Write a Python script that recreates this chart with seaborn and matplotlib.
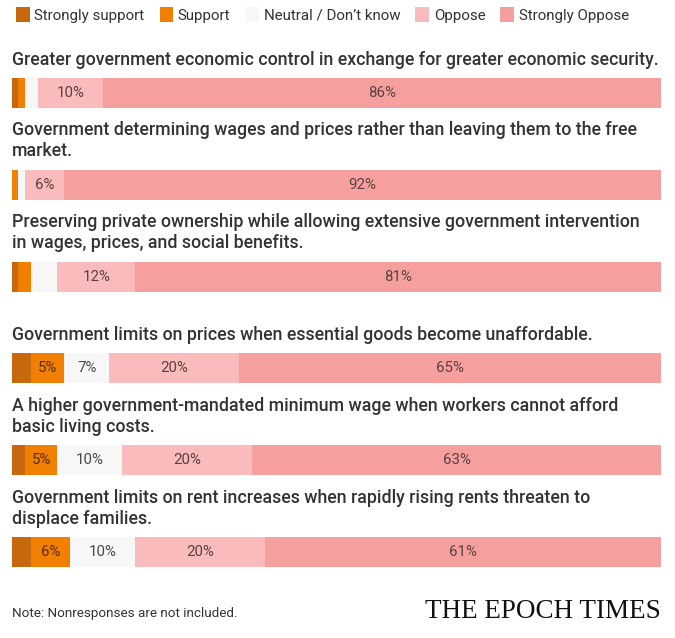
import pandas as pd
import seaborn as sns
import matplotlib.pyplot as plt
import numpy as np
from matplotlib.patches import Patch

sns.set_style("white")
plt.rcParams["font.family"] = ["Roboto", "DejaVu Sans"]

questions = [
    "Greater government economic control in exchange for greater economic security.",
    "Government determining wages and prices rather than leaving them to the free\nmarket.",
    "Preserving private ownership while allowing extensive government intervention\nin wages, prices, and social benefits.",
    "Government limits on prices when essential goods become unaffordable.",
    "A higher government-mandated minimum wage when workers cannot afford\nbasic living costs.",
    "Government limits on rent increases when rapidly rising rents threaten to\ndisplace families.",
]
categories = ["Strongly support", "Support", "Neutral / Don\u2019t know", "Oppose", "Strongly Oppose"]

strongly_support = [1, 0, 1, 3, 2, 3]
support = [1, 1, 2, 5, 5, 6]
neutral = [2, 1, 4, 7, 10, 10]
oppose = [10, 6, 12, 20, 20, 20]
strongly_oppose = [86, 92, 81, 65, 63, 61]

colors = ["#c8680e", "#f07f02", "#f7f7f7", "#f9bbbb", "#f59f9f"]
label_colors = ["#5a2e00", "#5a2e00", "#4a4a4a", "#5a4040", "#5a4040"]

df = pd.DataFrame({
    "question": questions,
    categories[0]: strongly_support,
    categories[1]: support,
    categories[2]: neutral,
    categories[3]: oppose,
    categories[4]: strongly_oppose,
})
cum = df[categories].cumsum(axis=1)

fig = plt.figure(figsize=(6.75, 6.38), dpi=100)
ax = fig.add_axes([12 / 675, 1 - 598 / 638, 649 / 675, 551 / 638])

# stacked bars: draw cumulative totals from the widest down
bar_h = 0.327
for cat, col in reversed(list(zip(categories, colors))):
    sns.barplot(x=cum[cat], y=df["question"], order=questions, orient="h",
                color=col, width=bar_h, saturation=1, ax=ax, linewidth=0)

ax.set_xlim(0, 100)
ax.set_ylim(5.5, -0.5)
ax.set_xlabel("")
ax.set_ylabel("")
ax.set_xticks([])
ax.set_yticks([])
sns.despine(ax=ax, left=True, bottom=True)

for i, q in enumerate(questions):
    ax.text(0, i - 0.265, q, ha="left", va="bottom", fontsize=12.8,
            fontweight="medium", color="#333333", linespacing=1.22)
    for j, cat in enumerate(categories):
        v = df.loc[i, cat]
        if v >= 5:
            ax.text(cum.loc[i, cat] - v / 2, i, f"{v}%", ha="center", va="center",
                    fontsize=10.8, color=label_colors[j])

handles = [Patch(facecolor=c, edgecolor="none") for c in colors]
fig.legend(handles, categories, loc="upper left", bbox_to_anchor=(0.004, 1.01),
           ncol=5, frameon=False, fontsize=10.9, handlelength=0.9, handleheight=1.1,
           handletextpad=0.3, columnspacing=1.0, labelcolor="#333333")

fig.text(12 / 675, 1 - 614 / 638, "Note: Nonresponses are not included.",
         fontsize=9.7, color="#333333", va="center", ha="left")
fig.text(661 / 675, 1 - 612 / 638, "THE EPOCH TIMES", fontsize=19.5,
         family=["Liberation Serif", "DejaVu Serif"], color="#111111",
         va="center", ha="right")

fig.savefig("out.png", dpi=100)
